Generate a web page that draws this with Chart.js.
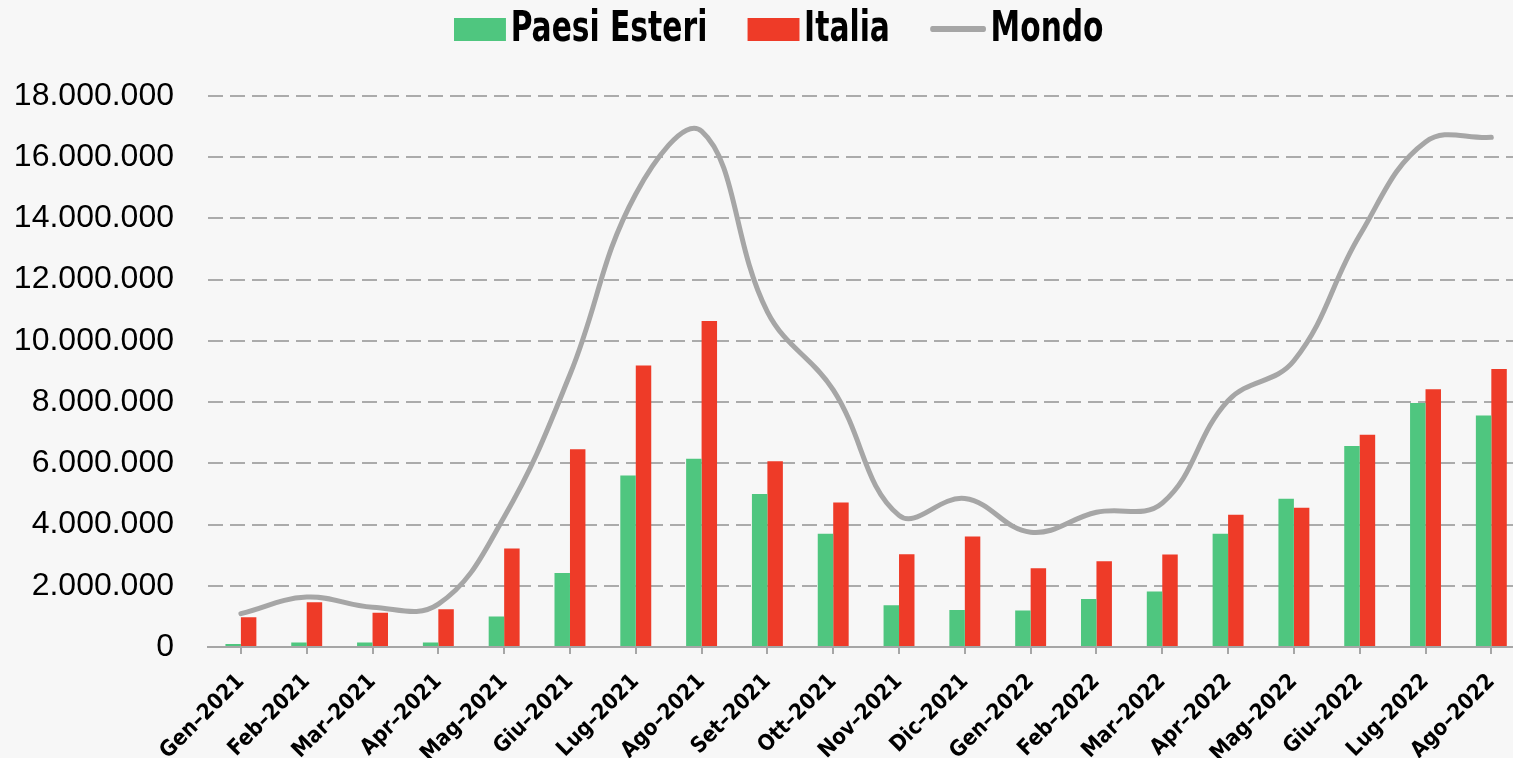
<!DOCTYPE html>
<html>
<head>
<meta charset="utf-8">
<script src="https://cdn.jsdelivr.net/npm/chart.js@4.4.1/dist/chart.umd.min.js"></script>
<style>
    html, body { margin: 0; padding: 0; width: 1513px; height: 758px; overflow: hidden; background: #f7f7f7; }
    #wrap { position: relative; width: 1525px; height: 758px; }
    /* legenda stretta in orizzontale, il font di sistema è più largo dell'originale */
    #legend {
        position: absolute; left: 454px; top: 6px; height: 42px;
        display: flex; align-items: center;
        transform: scaleX(0.787); transform-origin: 0 0;
        font-family: "DejaVu Sans Condensed", "DejaVu Sans", sans-serif;
        font-weight: bold; font-size: 42px; line-height: 42px; color: #000;
        white-space: nowrap;
    }
    .leg-item { display: flex; align-items: center; margin-right: 51px; }
    .leg-box { width: 66px; height: 23px; margin-right: 6px; position: relative; top: 2px; }
    .leg-line { width: 71px; height: 6px; border-radius: 3px; margin-right: 6px; position: relative; top: 2px; }
</style>
</head>
<body>
<div id="wrap">
    <canvas id="chart" width="1525" height="758"></canvas>
    <div id="legend"></div>
</div>
<script>
// dati
const mesi = ['Gen–2021', 'Feb–2021', 'Mar–2021', 'Apr–2021', 'Mag–2021', 'Giu–2021', 'Lug–2021', 'Ago–2021', 'Set–2021', 'Ott–2021',
    'Nov–2021', 'Dic–2021', 'Gen–2022', 'Feb–2022', 'Mar–2022', 'Apr–2022', 'Mag–2022', 'Giu–2022', 'Lug–2022', 'Ago–2022'];

const paesiEsteri = [100000, 150000, 150000, 150000, 1000000, 2420000, 5600000, 6150000, 5000000, 3700000,
    1360000, 1210000, 1190000, 1570000, 1810000, 3700000, 4840000, 6570000, 7970000, 7560000];

const italia = [970000, 1460000, 1120000, 1230000, 3220000, 6460000, 9200000, 10650000, 6070000, 4720000,
    3030000, 3610000, 2570000, 2800000, 3020000, 4320000, 4550000, 6930000, 8420000, 9080000];

const mondo = [1090000, 1630000, 1300000, 1400000, 4250000, 8900000, 14800000, 16850000, 10950000, 8400000,
    4300000, 4850000, 3750000, 4400000, 4700000, 8050000, 9350000, 13450000, 16500000, 16650000];

const yTicks = [0, 2000000, 4000000, 6000000, 8000000, 10000000, 12000000, 14000000, 16000000, 18000000];

const VERDE = '#4fc67f';
const ROSSO = '#ee3b28';
const GRIGIO = '#a6a6a6';

function formatMigliaia(v) {
    return String(v).replace(/\B(?=(\d{3})+(?!\d))/g, '.');
}

const ctx = document.getElementById('chart').getContext('2d');

const chart = new Chart(ctx, {
    type: 'bar',
    data: {
        labels: mesi,
        datasets: [
            { label: 'Paesi Esteri', data: paesiEsteri, backgroundColor: VERDE, order: 1, categoryPercentage: 0.47, barPercentage: 1 },
            { label: 'Italia', data: italia, backgroundColor: ROSSO, order: 1, categoryPercentage: 0.47, barPercentage: 1 },
            {
                type: 'line', label: 'Mondo', data: mondo, order: 0,
                borderColor: GRIGIO, backgroundColor: GRIGIO, borderWidth: 5,
                tension: 0.4, pointRadius: 0, borderCapStyle: 'round', borderJoinStyle: 'round', fill: false
            }
        ]
    },
    options: {
        responsive: false,
        devicePixelRatio: 1,
        animation: false,
        layout: { padding: { top: 96, left: 0, right: 0, bottom: 0 } },
        plugins: {
            legend: { display: false }, // legenda fatta in HTML sotto
            tooltip: { enabled: false }
        },
        scales: {
            x: {
                offset: true,
                grid: { offset: false, drawOnChartArea: false, drawTicks: true, tickLength: 7, color: GRIGIO, lineWidth: 2 },
                border: { display: true, color: GRIGIO, width: 2 },
                ticks: {
                    autoSkip: false, minRotation: 45, maxRotation: 45, padding: 15, labelOffset: 0, color: '#000',
                    font: { family: '"DejaVu Sans Condensed", "DejaVu Sans", sans-serif', weight: 'bold', size: 22 }
                },
                afterFit: function(scale) { scale.height = 111; }
            },
            y: {
                min: 0,
                max: 18000000,
                afterBuildTicks: function(scale) { scale.ticks = yTicks.map(v => ({ value: v })); },
                grid: { color: '#ababab', lineWidth: 2, drawTicks: false },
                border: { display: false, dash: [15, 7] },
                ticks: {
                    padding: 34, color: '#000',
                    font: { family: '"Liberation Sans", Arial, sans-serif', size: 32 },
                    callback: function(value) { return formatMigliaia(value); }
                },
                afterFit: function(scale) { scale.width = 208; }
            }
        }
    }
});

// legenda
const legend = document.getElementById('legend');
chart.data.datasets.forEach(ds => {
    const item = document.createElement('div');
    item.className = 'leg-item';
    const sw = document.createElement('span');
    if (ds.type === 'line') {
        sw.className = 'leg-line';
        sw.style.background = ds.borderColor;
    } else {
        sw.className = 'leg-box';
        sw.style.background = ds.backgroundColor;
    }
    const txt = document.createElement('span');
    txt.textContent = ds.label;
    item.appendChild(sw);
    item.appendChild(txt);
    legend.appendChild(item);
});
</script>
</body>
</html>
